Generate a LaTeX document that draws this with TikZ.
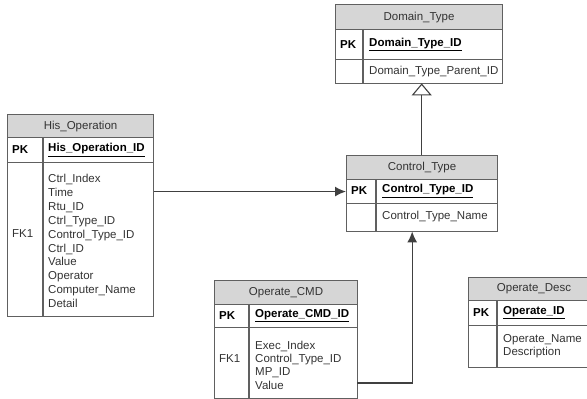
\documentclass[tikz,border=0pt]{standalone}
\usepackage{fontspec}
\setmainfont{Liberation Sans}
\usetikzlibrary{arrows.meta}
\definecolor{txt}{HTML}{333333}
\definecolor{hdr}{HTML}{D6D6D6}
\definecolor{edge}{HTML}{606060}
\definecolor{conn}{HTML}{404040}
\tikzset{
  cell/.style={draw=edge, line width=1.1pt, inner sep=0pt, anchor=north west},
  hcell/.style={cell, fill=hdr},
  title/.style={font=\fontsize{11.5}{13.6}\selectfont, text=txt},
  pk/.style={font=\fontsize{11.5}{13.6}\selectfont\bfseries, text=black, anchor=west, inner sep=0pt},
  attr/.style={font=\fontsize{11.5}{13.9}\selectfont, text=txt, anchor=west, inner sep=0pt, align=left},
  conn/.style={draw=conn, line width=1.4pt},
}
\begin{document}
\begin{tikzpicture}[x=1pt,y=-1pt]
\useasboundingbox (0,0) rectangle (587,399);
\clip (0,0) rectangle (587,399);
% ---------- Domain_Type
\node[hcell, minimum width=167, minimum height=25] (dth) at (335,4) {};
\node[cell, minimum width=167, minimum height=30] (dtp) at (335,29) {};
\node[cell, minimum width=167, minimum height=24] (dta) at (335,59) {};
\draw[draw=edge, line width=1.1pt] (363,29) -- (363,83);
\node[title] at (dth.center) {Domain\_Type};
\node[pk] at (340,44.5) {PK};
\node[pk] at (369,44.5) {\underline{Domain\_Type\_ID}};
\node[attr] at (369,71.5) {Domain\_Type\_Parent\_ID};
\node[inner sep=0pt, minimum width=167, minimum height=79, anchor=north west] (dt) at (335,4) {};
% ---------- Control_Type
\node[hcell, minimum width=151, minimum height=24] (cth) at (346,155) {};
\node[cell, minimum width=151, minimum height=24] (ctp) at (346,179) {};
\node[cell, minimum width=151, minimum height=28] (cta) at (346,203) {};
\draw[draw=edge, line width=1.1pt] (376,179) -- (376,231);
\node[title] at (cth.center) {Control\_Type};
\node[pk] at (351,191) {PK};
\node[pk] at (382,191) {\underline{Control\_Type\_ID}};
\node[attr] at (382,217) {Control\_Type\_Name};
\node[inner sep=0pt, minimum width=151, minimum height=76, anchor=north west] (ct) at (346,155) {};
% ---------- His_Operation
\node[hcell, minimum width=146, minimum height=23] (hoh) at (7,114) {};
\node[cell, minimum width=146, minimum height=25] (hop) at (7,137) {};
\node[cell, minimum width=146, minimum height=154] (hoa) at (7,162) {};
\draw[draw=edge, line width=1.1pt] (43,137) -- (43,316);
\node[title] at (hoh.center) {His\_Operation};
\node[pk] at (12,150) {PK};
\node[pk] at (48,150) {\underline{His\_Operation\_ID}};
\node[attr] at (12,234) {FK1};
\node[attr] at (48,241) {Ctrl\_Index\\Time\\Rtu\_ID\\Ctrl\_Type\_ID\\Control\_Type\_ID\\Ctrl\_ID\\Value\\Operator\\Computer\_Name\\Detail};
% ---------- Operate_CMD
\node[hcell, minimum width=143, minimum height=24] (och) at (214,280) {};
\node[cell, minimum width=143, minimum height=23] (ocp) at (214,304) {};
\node[cell, minimum width=143, minimum height=71] (oca) at (214,327) {};
\draw[draw=edge, line width=1.1pt] (249,304) -- (249,398);
\node[title] at (och.center) {Operate\_CMD};
\node[pk] at (219,316) {PK};
\node[pk] at (255,316) {\underline{Operate\_CMD\_ID}};
\node[attr] at (219,359) {FK1};
\node[attr, font=\fontsize{11.5}{13.4}\selectfont] at (255,365) {Exec\_Index\\Control\_Type\_ID\\MP\_ID\\Value};
% ---------- Operate_Desc
\node[hcell, minimum width=132, minimum height=23] (odh) at (468,277) {};
\node[cell, minimum width=132, minimum height=25] (odp) at (468,300) {};
\node[cell, minimum width=132, minimum height=42] (oda) at (468,325) {};
\draw[draw=edge, line width=1.1pt] (497,300) -- (497,367);
\node[title] at (534,288.5) {Operate\_Desc};
\node[pk] at (473,312.5) {PK};
\node[pk] at (503,312.5) {\underline{Operate\_ID}};
\node[attr, font=\fontsize{11.5}{13.2}\selectfont] at (503,346.5) {Operate\_Name\\Description};
% ---------- connectors
\draw[conn, -{Triangle[open, length=12pt, width=20pt, line width=1.1pt]}] (ct.north) -- (ct.north |- dt.south);
\draw[conn, -{Latex[length=11pt, width=10pt]}] (hoa.east |- ctp.west) -- (ctp.west);
\coordinate (ocout) at (357,383);
\draw[conn, -{Latex[length=11pt, width=10pt]}] (ocout) -| ([xshift=-9.5pt]ct.south);
\end{tikzpicture}
\end{document}
